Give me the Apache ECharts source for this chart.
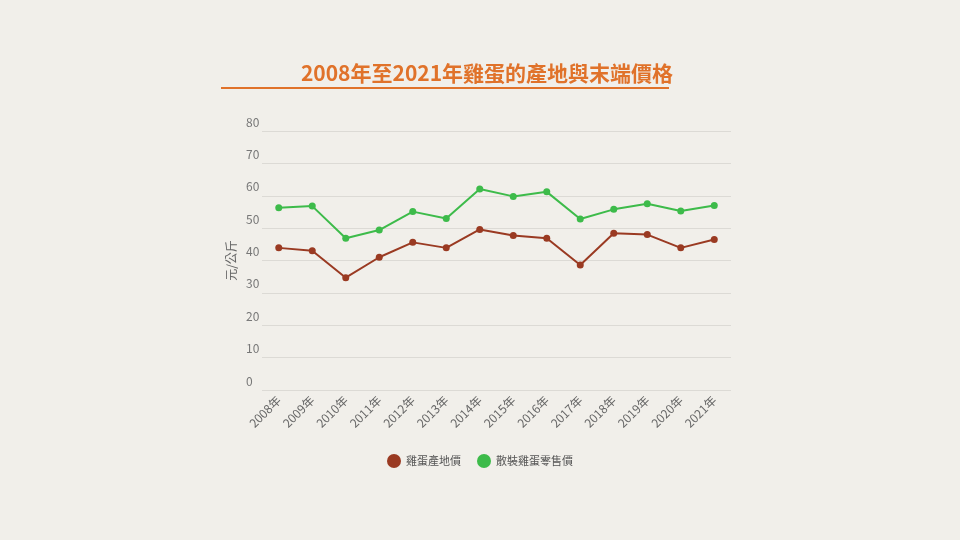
<!DOCTYPE html>
<html><head><meta charset="utf-8">
<script src="https://cdn.jsdelivr.net/npm/echarts@6/dist/echarts.min.js"></script>
<style>body{margin:0;background:#f1efea}#c{width:960px;height:540px}</style></head>
<body><div id="c"></div>
<script>
const categories=['2008年','2009年','2010年','2011年','2012年','2013年','2014年','2015年','2016年','2017年','2018年','2019年','2020年','2021年'];
const farmPrice=[43.9,43.0,34.7,41.0,45.6,43.9,49.6,47.7,46.9,38.6,48.4,48.0,43.9,46.5];
const retailPrice=[56.3,56.8,46.9,49.4,55.1,53.0,62.1,59.8,61.2,52.8,55.8,57.5,55.3,57.0];
const yTicks=[0,10,20,30,40,50,60,70,80];
const chart=echarts.init(document.getElementById('c'));
const ff='"Noto Sans CJK TC","Noto Sans",sans-serif';
chart.setOption({
  backgroundColor:'#f1efea',
  title:{text:'2008年至2021年雞蛋的產地與末端價格',left:482,textAlign:'center',top:58,textStyle:{color:'#e0722a',fontSize:21,fontWeight:'bold',fontFamily:ff}},
  graphic:[{type:'line',shape:{x1:221,y1:88,x2:669,y2:88},style:{stroke:'#e0722a',lineWidth:2}}],
  legend:{bottom:67,left:'center',itemWidth:14,itemHeight:14,itemGap:16,icon:'circle',textStyle:{color:'#555',fontSize:11,fontFamily:ff}},
  grid:{left:262,right:229,top:131,bottom:150},
  xAxis:{type:'category',data:categories,boundaryGap:true,axisLine:{show:false},axisTick:{show:false},
    axisLabel:{rotate:45,color:'#666',fontSize:12,fontFamily:ff,margin:8}},
  yAxis:{type:'value',min:yTicks[0],max:yTicks[yTicks.length-1],interval:10,name:'元/公斤',nameLocation:'middle',nameGap:25,
    nameTextStyle:{color:'#666',fontSize:12,fontFamily:ff},
    axisLabel:{color:'#777',fontSize:12,align:'left',verticalAlign:'bottom',margin:16,padding:[0,0,3,0],fontFamily:ff},
    splitLine:{lineStyle:{color:'#dcdad5'}},axisLine:{show:false},axisTick:{show:false}},
  series:[
    {name:'雞蛋產地價',type:'line',data:farmPrice,symbol:'circle',symbolSize:7,color:'#9a3a22',lineStyle:{width:2}},
    {name:'散裝雞蛋零售價',type:'line',data:retailPrice,symbol:'circle',symbolSize:7,color:'#3dbb4a',lineStyle:{width:2}}
  ]
});
</script></body></html>
